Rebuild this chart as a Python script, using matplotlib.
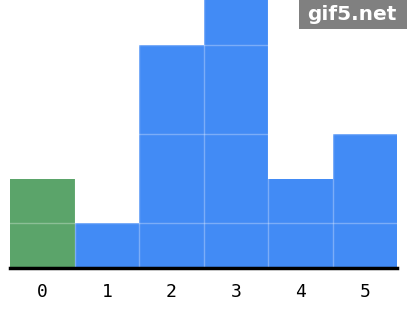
import matplotlib
matplotlib.use("Agg")
from matplotlib import pyplot as plt
from matplotlib.patches import Rectangle

# values
labels = ['0', '1', '2', '3', '4', '5']
heights = [2, 1, 5, 6, 2, 3]
colors = ['#5ba46a', '#428bf5', '#428bf5', '#428bf5', '#428bf5', '#428bf5']
grid_levels = [1, 3, 5]

fig = plt.figure(figsize=(4.07, 3.16), dpi=100)
ax = fig.add_axes([10 / 407, 48 / 316, 387 / 407, 268 / 316])

x = list(range(len(labels)))
ax.bar(x, heights, width=1.0, color=colors, zorder=1)

# faint white lines that only show on top of the bars
for lvl in grid_levels:
    ax.axhline(lvl, color='white', alpha=0.3, lw=1, zorder=2)
for b in range(1, len(labels)):
    ax.axvline(b - 0.5, color='white', alpha=0.3, lw=1, zorder=2)

ax.set_xlim(-0.5, len(labels) - 0.5)
ax.set_ylim(0, 6.0)
ax.set_xticks(x)
ax.set_xticklabels(labels, family='DejaVu Sans Mono', fontsize=13)
ax.tick_params(axis='x', length=0, pad=11)
ax.set_yticks([])
for s in ['top', 'right', 'left']:
    ax.spines[s].set_visible(False)
ax.spines['bottom'].set_linewidth(2.5)
ax.spines['bottom'].set_color('black')
ax.spines['bottom'].set_zorder(3)

# watermark box
fig.patches.append(Rectangle((299 / 407, 1 - 29 / 316), 108 / 407, 29 / 316,
                             transform=fig.transFigure, facecolor='#808080',
                             edgecolor='none', zorder=5))
fig.text(397 / 407, 1 - 14.5 / 316, 'gif5.net', ha='right', va='center', color='white',
         fontsize=14.5, fontweight='bold', zorder=6)

plt.savefig('out.png', dpi=100)
